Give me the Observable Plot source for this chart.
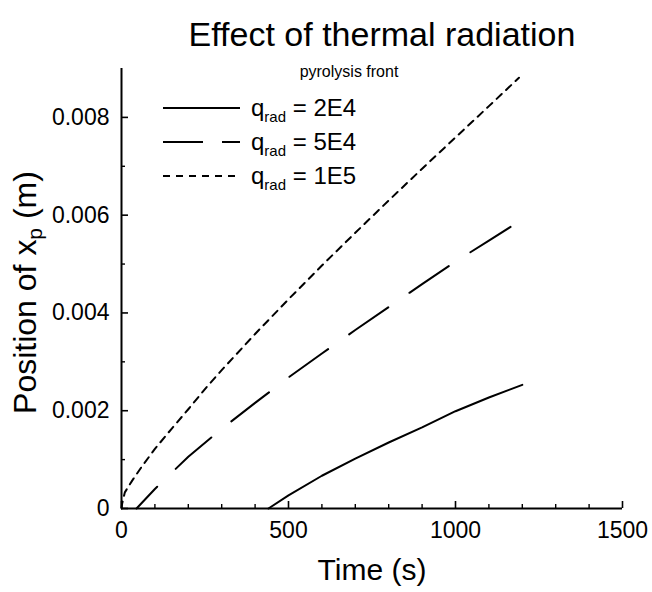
<!DOCTYPE html>
<html>
<head>
<meta charset="utf-8">
<script src="https://cdn.jsdelivr.net/npm/d3@7"></script>
<script src="https://cdn.jsdelivr.net/npm/@observablehq/plot@0.6"></script>
<style>
  body { margin: 0; background: #fff; }
  #wrap { position: relative; width: 652px; height: 592px; font-family: "Liberation Sans", Arial, sans-serif; color: #000; }
  #title { position: absolute; left: 0; top: 14px; width: 652px; padding-left: 112px; box-sizing: border-box; text-align: center; font-size: 34px; line-height: 40px; }
  #sub { position: absolute; left: 0; top: 63px; width: 652px; padding-left: 46px; box-sizing: border-box; text-align: center; font-size: 16px; line-height: 18px; }
  #legend { position: absolute; left: 0; top: 0; pointer-events: none; }
  #chart { position: absolute; left: 0; top: 0; }
</style>
</head>
<body>
<div id="wrap">
  <div id="chart"></div>
  <div id="title">Effect of thermal radiation</div>
  <div id="sub">pyrolysis front</div>
  <svg id="legend" width="652" height="592"></svg>
</div>
<script>
// ---- data ----
const seriesNames = ["2E4", "5E4", "1E5"];

const time2E4 = [440, 500, 600, 700, 800, 900, 1000, 1100, 1200];
const pos2E4  = [0, 0.00027, 0.00067, 0.00102, 0.00135, 0.00166, 0.00199, 0.00227, 0.00253];

const time5E4 = [45, 100, 200, 300, 400, 500, 600, 700, 800, 900, 1000, 1100, 1165];
const pos5E4  = [0, 0.00040, 0.00106, 0.00163, 0.00216, 0.00268, 0.00317, 0.00365, 0.00412, 0.00459, 0.00505, 0.00548, 0.00576];

const time1E5 = [0, 2, 10, 32, 60, 100, 150, 200, 257, 300, 400, 500, 600, 700, 800, 900, 1000, 1050, 1100, 1190];
const pos1E5  = [0, 0.0001, 0.00033, 0.00057, 0.00085, 0.00122, 0.00163, 0.00203, 0.0025, 0.00283, 0.00357, 0.00428, 0.00497, 0.00564, 0.0063, 0.00695, 0.00759, 0.00791, 0.00823, 0.00881];

const xMajorTicks = [0, 500, 1000, 1500];
const xMinorTicks = [100, 200, 300, 400, 600, 700, 800, 900, 1100, 1200, 1300, 1400];
const yMajorTicks = [0, 0.002, 0.004, 0.006, 0.008];
const yMinorTicks = [0.001, 0.003, 0.005, 0.007];

const xLabel = "Time (s)";
const yLabelMain = "Position of x";
const yLabelSub = "p";
const yLabelTail = " (m)";

// ---- build tables ----
const toRows = (ts, vs) => ts.map((t, i) => ({t, v: vs[i]}));
const rows = [toRows(time2E4, pos2E4), toRows(time5E4, pos5E4), toRows(time1E5, pos1E5)];
const seriesDash = ["none", "48,26", "7,6"];

const fmtY = d => d === 0 ? "0" : d.toFixed(3);
const fmtX = d => String(d);
const blank = () => "";

const chart = Plot.plot({
  width: 652,
  height: 592,
  marginTop: 68,
  marginLeft: 121,
  marginRight: 30,
  marginBottom: 84,
  style: {fontFamily: "'Liberation Sans', Arial, sans-serif", color: "#000", background: "transparent"},
  x: {domain: [0, 1500]},
  y: {domain: [0, 0.009]},
  marks: [
    Plot.axisX(xMajorTicks, {tickSize: 0, tickPadding: 13, tickFormat: fmtX, fontSize: 23, label: null}),
    Plot.axisX(xMajorTicks, {tickSize: -7, tickFormat: blank, strokeWidth: 1.6, label: null}),
    Plot.axisX(xMinorTicks, {tickSize: -4, tickFormat: blank, strokeWidth: 1.4, label: null}),
    Plot.axisY(yMajorTicks, {tickSize: 0, tickPadding: 12, tickFormat: fmtY, fontSize: 23, label: null}),
    Plot.axisY(yMajorTicks, {tickSize: -7, tickFormat: blank, strokeWidth: 1.6, label: null}),
    Plot.axisY(yMinorTicks, {tickSize: -4, tickFormat: blank, strokeWidth: 1.4, label: null}),
    Plot.ruleX([0], {strokeWidth: 2}),
    Plot.ruleY([0], {strokeWidth: 2}),
    ...rows.map((r, i) => Plot.line(r, {x: "t", y: "v", stroke: "black", strokeWidth: 2, strokeDasharray: seriesDash[i]})),
    Plot.text([xLabel], {text: d => d, frameAnchor: "bottom", dy: 62, fontSize: 30, lineAnchor: "middle", textAnchor: "middle"}),
    Plot.text([yLabelMain], {text: d => d, frameAnchor: "left", dx: -96, dy: 4, rotate: -90, fontSize: 32, lineAnchor: "middle", textAnchor: "middle"})
  ]
});
document.getElementById("chart").appendChild(chart);

// subscript in y label
const NS = "http://www.w3.org/2000/svg";
const yl = Array.from(chart.querySelectorAll("text")).find(t => t.textContent === yLabelMain);
if (yl) {
  yl.textContent = "";
  yl.appendChild(document.createTextNode(yLabelMain));
  const s = document.createElementNS(NS, "tspan");
  s.setAttribute("dy", "6"); s.setAttribute("font-size", "21"); s.textContent = yLabelSub;
  yl.appendChild(s);
  const r = document.createElementNS(NS, "tspan");
  r.setAttribute("dy", "-6"); r.textContent = yLabelTail;
  yl.appendChild(r);
}

// fit dash phase of the long-dash series so it starts with a short dash and ends on a dash
const lineGroups = chart.querySelectorAll('g[aria-label="line"]');
const dashPath = lineGroups.length > 1 ? lineGroups[1].querySelector("path") : null;
if (dashPath && dashPath.getTotalLength) {
  const L = dashPath.getTotalLength();
  const startDash = 30, baseP = 74, dashFrac = 48 / 74;
  const n = Math.max(1, Math.round((L - startDash) / baseP));
  const Pp = (L - startDash) / n;
  const d = Pp * dashFrac, g = Pp - d;
  dashPath.setAttribute("stroke-dasharray", `${d.toFixed(2)},${g.toFixed(2)}`);
  dashPath.setAttribute("stroke-dashoffset", (d - startDash).toFixed(2));
}

// legend
const lg = d3.select("#legend");
seriesNames.forEach((name, i) => {
  const cy = 108 + i * 34;
  lg.append("line").attr("x1", 163).attr("x2", 240).attr("y1", cy).attr("y2", cy)
    .attr("stroke", "black").attr("stroke-width", 2)
    .attr("stroke-dasharray", i === 0 ? null : (i === 1 ? "40,19" : "7,6"));
  const t = lg.append("text").attr("x", 251).attr("y", cy + 8)
    .attr("font-family", "'Liberation Sans', Arial, sans-serif").attr("font-size", 24);
  t.append("tspan").text("q");
  t.append("tspan").attr("font-size", 15).attr("dy", 6).text("rad");
  t.append("tspan").attr("dy", -6).text(" = " + name);
});
</script>
</body>
</html>
